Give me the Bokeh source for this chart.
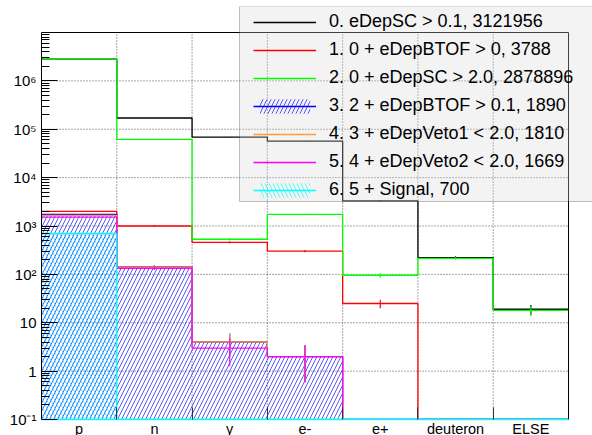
import numpy as np
from bokeh.plotting import figure
from bokeh.models import (Range1d, FixedTicker, CustomJSTickFormatter, Legend, LegendItem,
                          BoxAnnotation)
from bokeh.embed import file_html
from bokeh.resources import INLINE

# particle categories on the x axis
categories = ["p", "n", "γ", "e-", "e+", "deuteron", "ELSE"]

# cumulative selection cuts, one histogram per cut
cut_names = [
    "eDepSC > 0.1",
    "0 + eDepBTOF > 0",
    "0 + eDepSC > 2.0",
    "2 + eDepBTOF > 0.1",
    "3 + eDepVeto1 < 2.0",
    "4 + eDepVeto2 < 2.0",
    "5 + Signal",
]

cut0 = [2821815, 171000, 69000, 56600, 3300, 222, 19]
cut1 = [2000, 1000, 460, 303, 25, 0, 0]
cut2 = [2814295, 62000, 532, 1740, 96, 215, 18]
cut3 = [1739, 145, 4, 2, 0, 0, 0]
cut4 = [1662, 142, 4, 2, 0, 0, 0]
cut5 = [1530, 134, 3, 2, 0, 0, 0]
cut6 = [700, 0, 0, 0, 0, 0, 0]

counts = [cut0, cut1, cut2, cut3, cut4, cut5, cut6]
colors = ["#000000", "#ff0000", "#00ff00", "#0000ff", "#ff9933", "#ff00ff", "#00ffff"]
hatches = [None, None, None, "/", None, None, "\\"]

# histogram axis range; the canvas frame is a little larger so the legend
# box can hang over the top and right of the histogram area
YMIN, YMAX = 0.1, 1e7
FONT = "Liberation Sans"

nbins = len(categories)
edges = np.arange(nbins + 1, dtype=float)
centers = edges[:-1] + 0.5

area_w, area_h = 527, 387          # histogram area in pixels
frame_w, frame_h = 551, 413        # drawing frame (extra room right and above)
x_end = nbins * frame_w / area_w
y_end = 10 ** (np.log10(YMIN) + (np.log10(YMAX) - np.log10(YMIN)) * frame_h / area_h)

p = figure(frame_width=frame_w, frame_height=frame_h,
           x_range=Range1d(0, x_end), y_range=Range1d(YMIN, y_end),
           y_axis_type="log", output_backend="svg", toolbar_location=None, title=None,
           min_border_left=41, min_border_right=0, min_border_top=6, min_border_bottom=16)
p.background_fill_color = "white"
p.border_fill_color = "white"
p.outline_line_color = None
p.xgrid.visible = False
p.ygrid.visible = False

# y axis: decades with 2..9 minor ticks, labels as 10 with superscript exponent
major = [10.0 ** k for k in range(-1, 7)]
minor = [m * 10.0 ** k for k in range(-1, 7) for m in range(2, 10)]
p.yaxis.ticker = FixedTicker(ticks=major, minor_ticks=minor)
p.yaxis.formatter = CustomJSTickFormatter(code="""
const e = Math.round(Math.log10(tick));
if (e == 0) return "1";
if (e == 1) return "10";
const sup = {"-": "\u207b", "0": "\u2070", "1": "\u00b9", "2": "\u00b2", "3": "\u00b3",
             "4": "\u2074", "5": "\u2075", "6": "\u2076", "7": "\u2077", "8": "\u2078", "9": "\u2079"};
return "10" + String(e).split("").map(c => sup[c]).join("");
""")
p.yaxis.bounds = (YMIN, YMAX)
p.yaxis.major_tick_in = 16
p.yaxis.major_tick_out = 0
p.yaxis.minor_tick_in = 8
p.yaxis.minor_tick_out = 0
p.yaxis.major_label_standoff = 5
p.yaxis.major_label_text_font = FONT
p.yaxis.major_label_text_font_size = "15px"
p.yaxis.major_label_text_color = "black"
p.yaxis.axis_line_color = "black"

# x axis: names under the bin centres, tick marks on the bin edges.
# Its baseline carries the colour of the last histogram, whose empty bins
# run along the bottom of the plot.
p.xaxis.ticker = FixedTicker(ticks=list(centers), minor_ticks=list(edges[1:-1]))
p.xaxis.major_label_overrides = {float(c): name for c, name in zip(centers, categories)}
p.xaxis.bounds = (0, nbins)
p.xaxis.major_label_text_font = FONT
p.xaxis.major_label_text_font_size = "14.5px"
p.xaxis.major_label_text_color = "black"
p.xaxis.major_label_standoff = 1
p.xaxis.major_tick_in = 0
p.xaxis.major_tick_out = 0
p.xaxis.minor_tick_in = 12
p.xaxis.minor_tick_out = 0
p.xaxis.minor_tick_line_color = "#333333"
p.xaxis.axis_line_color = colors[-1]
p.xaxis.axis_line_width = 1.5

# dotted grid restricted to the histogram area
grid_kw = dict(line_color="black", line_alpha=0.7, line_dash="1 2", line_width=1)
gy = [10.0 ** k for k in range(0, 7)]
p.segment(x0=[0] * len(gy), y0=gy, x1=[nbins] * len(gy), y1=gy, **grid_kw)
gx = list(edges[1:-1])
p.segment(x0=gx, y0=[YMIN] * len(gx), x1=gx, y1=[YMAX] * len(gx), **grid_kw)

legend_items = []
for i, (vals, col, hatch) in enumerate(zip(counts, colors, hatches)):
    vals = np.asarray(vals, dtype=float)
    shown = np.where(vals > 0, vals, YMIN)
    renderers = []
    nz = vals > 0
    if hatch is not None:
        hr = p.quad(left=edges[:-1][nz], right=edges[1:][nz], bottom=YMIN, top=vals[nz],
                    fill_color=None, line_color=None, hatch_pattern=hatch,
                    hatch_color=col, hatch_scale=8, hatch_weight=1, hatch_alpha=0.65)
        renderers.append(hr)
    sr = p.step(x=edges, y=np.append(shown, shown[-1]), mode="after",
                line_color=col, line_width=1.3)
    renderers.append(sr)
    # statistical error bars
    err = np.sqrt(vals[nz])
    lo = np.maximum(vals[nz] - err, YMIN * 0.5)
    hi = vals[nz] + err
    p.segment(x0=centers[nz], y0=lo, x1=centers[nz], y1=hi, line_color=col, line_width=1.2)
    label = f"{i}. {cut_names[i]}, {int(vals.sum())}"
    legend_items.append(LegendItem(label=label, renderers=renderers))

# histogram frame: top and right edges (left and bottom are the axes)
p.line(x=[0, nbins, nbins], y=[YMAX, YMAX, YMIN], line_color="black", line_width=1)

# legend frame, semi transparent, running off the right edge
box = BoxAnnotation(left=239, right=640, top=6, bottom=201,
                    left_units="canvas", right_units="canvas",
                    top_units="canvas", bottom_units="canvas",
                    fill_color="#d8d8d8", fill_alpha=0.3,
                    line_color="#333333", line_width=1)
p.add_layout(box)

legend = Legend(items=legend_items, location=(212, 218.8), orientation="vertical",
                label_text_font=FONT, label_text_font_size="18px", label_text_color="black",
                glyph_width=63, glyph_height=18, label_height=21, label_standoff=13,
                spacing=7, padding=0, margin=0,
                background_fill_alpha=0, border_line_alpha=0)
p.add_layout(legend)

open("out.html", "w").write(file_html(p, INLINE))
